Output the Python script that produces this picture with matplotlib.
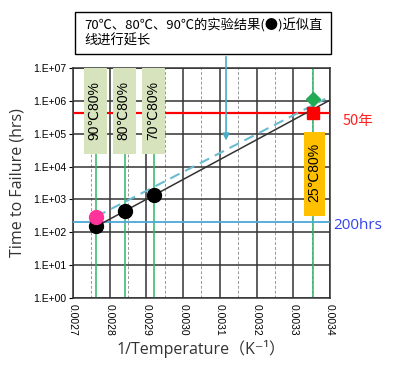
import matplotlib
matplotlib.use("Agg")
import matplotlib.pyplot as plt
from matplotlib.patches import Rectangle
from matplotlib.ticker import FixedLocator, FuncFormatter
import numpy as np

# values
test_labels = ['90℃80%', '80℃80%', '70℃80%']
inv_temp = [0.002763, 0.002842, 0.002921]      # 1/T of the 90, 80, 70 C tests
fail_hours = [150, 450, 1350]                   # black dots
pink_hours = 300                                # pink dot at 90 C
inv_temp_25 = 0.003355
label_25 = '25℃80%'
diamond_hours = 1.1e6
dashed_end = (0.003387, 1.15e6)
hours_50y = 50 * 8760
hours_200 = 200
note = '70℃、80℃、90℃的实验结果(●)近似直\n线进行延长'

cjk = ['Noto Sans CJK SC', 'DejaVu Sans']
lab_font = ['Liberation Sans', 'DejaVu Sans']
plt.rcParams['font.family'] = ['Liberation Sans', 'Noto Sans CJK SC', 'DejaVu Sans']

fig = plt.figure(figsize=(4.0, 3.71), dpi=100)
ax = fig.add_axes([73/400, 1-298/371, 257/400, 230/371])
ax.set_yscale('log')
ax.set_xlim(0.0027, 0.0034)
ax.set_ylim(1, 1e7)

# grid
xmaj = np.arange(0.0027, 0.00341, 0.0001)
xmin = np.arange(0.00275, 0.0034, 0.0001)
for x in xmaj:
    ax.axvline(x, color='#333333', lw=1.1, zorder=1)
for x in xmin:
    ax.axvline(x, color='#999999', lw=0.7, ls=(0, (3, 2)), zorder=1)
for e in range(8):
    ax.axhline(10.0**e, color='#333333', lw=1.1, zorder=1)

# test temperature lines
for x in inv_temp + [inv_temp_25]:
    ax.axvline(x, color='#2db866', lw=1.1, zorder=2)

ax.axhline(hours_50y, color='#ff0000', lw=1.6, zorder=3)
ax.axhline(hours_200, color='#4aa8d8', lw=1.3, zorder=3)

# fit through the black points, extended to 25 C
k, b = np.polyfit(inv_temp, np.log10(fail_hours), 1)
xs = np.array([inv_temp[0], 0.0034])
ax.plot(xs, 10**(k*xs + b), color='#333333', lw=1.1, zorder=4)

# dashed line starting at the pink point
ax.plot([inv_temp[0], dashed_end[0]], [pink_hours, dashed_end[1]],
        color='#6bbcd0', lw=1.5, ls=(0, (5, 3)), zorder=4)

ax.plot(inv_temp, fail_hours, 'o', color='black', ms=10, zorder=5)
ax.plot(inv_temp[0], pink_hours, 'o', color='#ff3399', ms=10, zorder=6)
ax.plot(inv_temp_25, diamond_hours, 'D', color='#22aa55', ms=7, zorder=6)
ax.plot(inv_temp_25, hours_50y, 's', color='#ff0000', ms=8, zorder=6)

# condition boxes
for x, lab in zip(inv_temp, test_labels):
    ax.add_patch(Rectangle((x - 0.000032, 2.4e4), 0.000062, 1e7 - 2.4e4,
                           facecolor='#d7e3bd', edgecolor='none', zorder=7))
    ax.text(x - 0.000004, 5e5, lab, rotation=90, ha='center', va='center',
            fontsize=10, family=lab_font, zorder=8)
ax.add_patch(Rectangle((inv_temp_25 - 0.000027, 310), 0.000058, 1.1e5 - 310,
                       facecolor='#ffc000', edgecolor='none', zorder=7))
ax.text(inv_temp_25 + 0.000002, 6.5e3, label_25, rotation=90, ha='center', va='center',
        fontsize=10, family=lab_font, zorder=8)

# ticks
ax.xaxis.set_major_locator(FixedLocator(xmaj))
ax.xaxis.set_minor_locator(FixedLocator([]))
ax.xaxis.set_major_formatter(FuncFormatter(lambda v, p: f'{v:.4f}'))
ax.yaxis.set_major_locator(FixedLocator([10.0**e for e in range(8)]))
ax.yaxis.set_minor_locator(FixedLocator([]))
ax.yaxis.set_major_formatter(FuncFormatter(lambda v, p: f'1.E+{int(round(np.log10(v))):02d}'))
ax.tick_params(axis='x', labelrotation=270, labelsize=7.5, length=0, pad=4)
ax.tick_params(axis='y', labelsize=7.5, length=3, pad=2)
for s in ax.spines.values():
    s.set_color('#333333')
    s.set_linewidth(1.1)

ax.set_ylabel('Time to Failure (hrs)', fontsize=11.5, family=['Open Sans', 'DejaVu Sans'],
              color='#333333', labelpad=5)
ax.set_xlabel('1/Temperature（K⁻¹）', fontsize=11.5,
              family=['Open Sans', 'Noto Sans CJK SC', 'DejaVu Sans'], color='#333333', labelpad=3)

# side labels
fig.text(343/400, 1-121/371, '50年', color='#ff2222', fontsize=10.5, family=cjk, va='center')
fig.text(333/400, 1-226/371, '200hrs', color='#3344ee', fontsize=11,
         family=['Open Sans', 'DejaVu Sans'], va='center')

# note box with arrow
fig.patches.append(Rectangle((75/400, 1-54/371), 256/400, 42/371, transform=fig.transFigure,
                             facecolor='white', edgecolor='black', lw=1.0, zorder=1))
fig.text(84/400, 1-33/371, note, fontsize=9.5, family=cjk, va='center', linespacing=1.2)
ax.annotate('', xy=(0.003117, 5.1e4), xycoords='data',
            xytext=(226/400, 1-54/371), textcoords='figure fraction',
            arrowprops=dict(arrowstyle='-|>', color='#4bacc6', lw=1.2, mutation_scale=10),
            annotation_clip=False, zorder=9)

fig.savefig('out.png', dpi=100)
